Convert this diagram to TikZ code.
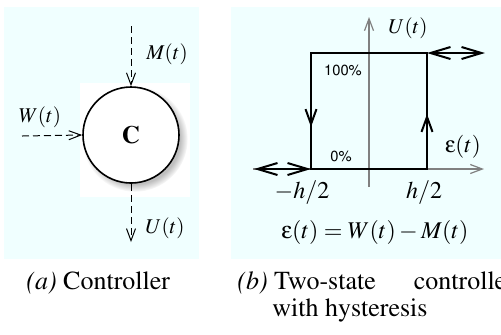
\documentclass[tikz,border=0pt]{standalone}
\usepackage[T1]{fontenc}
\usepackage{mathptmx}
\usepackage[scaled=0.92]{helvet}
\usetikzlibrary{arrows.meta,shadows}
\definecolor{panelbg}{HTML}{F0FFFF}
\definecolor{axisgray}{HTML}{808080}
\newcommand{\upeps}{\mbox{\usefont{U}{psy}{m}{n}e}}
\tikzset{
  panel/.style={fill=panelbg, draw=none},
  sigline/.style={draw=black, line width=0.5pt, dash pattern=on 3.5pt off 2pt,
    -{Straight Barb[length=6pt,width=4.5pt]}},
  axisline/.style={draw=axisgray, line width=0.6pt,
    -{Straight Barb[length=6pt,width=4.5pt]}},
  loopline/.style={draw=black, line width=1pt},
  looptip/.style={draw=black, line width=1pt,
    -{Straight Barb[length=7.5pt,width=5.5pt]}},
  rangearrow/.style={draw=black, line width=1pt,
    {Straight Barb[length=10pt,width=6pt]}-{Straight Barb[length=10pt,width=6pt]}},
  ctrlnode/.style={circle, draw=black, line width=0.8pt, fill=white,
    minimum size=48pt, inner sep=0pt,
    circular drop shadow={shadow xshift=1.8pt, shadow yshift=-1.8pt, opacity=0.5},
    font=\fontsize{12.5}{14}\selectfont\bfseries},
  lbl/.style={font=\fontsize{10.5}{12}\selectfont, inner sep=0pt},
  biglbl/.style={font=\fontsize{12}{14}\selectfont, inner sep=0pt, anchor=base},
  pct/.style={font=\fontsize{8}{9}\selectfont\sffamily, inner sep=0pt},
  capnode/.style={font=\fontsize{13}{13}\selectfont, inner sep=0pt, anchor=base west},
}
\begin{document}
\begin{tikzpicture}[x=0.5pt,y=-0.5pt]
\useasboundingbox (0,0) rectangle (501,334);

% Panels
\fill[panel] (4,7) rectangle (199,259);
\fill[panel] (231,7) rectangle (501,259);
\fill[white] (80,83) rectangle (190,197);

% (a) Controller
\node[ctrlnode] (ctrl) at (131,135) {C};
\coordinate (min) at (131,26);
\coordinate (win) at (22,136);
\coordinate (uout) at (131,242);
\draw[sigline] (min) -- (ctrl.north);
\draw[sigline] (win) -- (ctrl.west);
\draw[sigline] (ctrl.south) -- (uout);
\node[lbl] (mlab) at (167,54) {$M(t)$};
\node[lbl] (wlab) at (40,117) {$W(t)$};
\node[lbl] (ulab) at (165,228) {$U(t)$};

% (b) Two-state characteristic
\coordinate (xl) at (253,169);
\coordinate (xr) at (484,169);
\coordinate (yb) at (369,187);
\coordinate (yt) at (369,17);
\draw[axisline] (xl) -- (xr);
\draw[axisline] (yb) -- (yt);

\coordinate (lo) at (311,169);
\coordinate (ro) at (427,169);
\coordinate (lt) at (311,53);
\coordinate (rt) at (427,53);
\draw[loopline] (lt) rectangle (ro);
\draw[looptip] (311,105) -- (311,127);
\draw[looptip] (427,136) -- (427,114);
\draw[rangearrow] (rt) -- (485,53);
\draw[rangearrow] (254,169) -- (lo);

\node[lbl] (uaxis) at (408,28) {$U(t)$};
\node[font=\fontsize{11.5}{13}\selectfont, inner sep=0pt] (eaxis) at (463,147) {$\upeps(t)$};
\node[pct] (full) at (343,70) {100\%};
\node[pct] (zero) at (341,156) {0\%};
\node[biglbl] (hneg) at (302,198) {$-h/2$};
\node[biglbl] (hpos) at (424,198) {$h/2$};
\node[biglbl] (eqn) at (375,238) {$\upeps(t)=W(t)-M(t)$};

% Captions
\node[capnode] (capa) at (26,289) {\textit{(a)} Controller};
\node[capnode] (capb) at (237,289) {\textit{(b)} Two-state\hspace{19pt}controller};
\node[capnode] (capc) at (272,316) {with hysteresis};
\end{tikzpicture}
\end{document}
